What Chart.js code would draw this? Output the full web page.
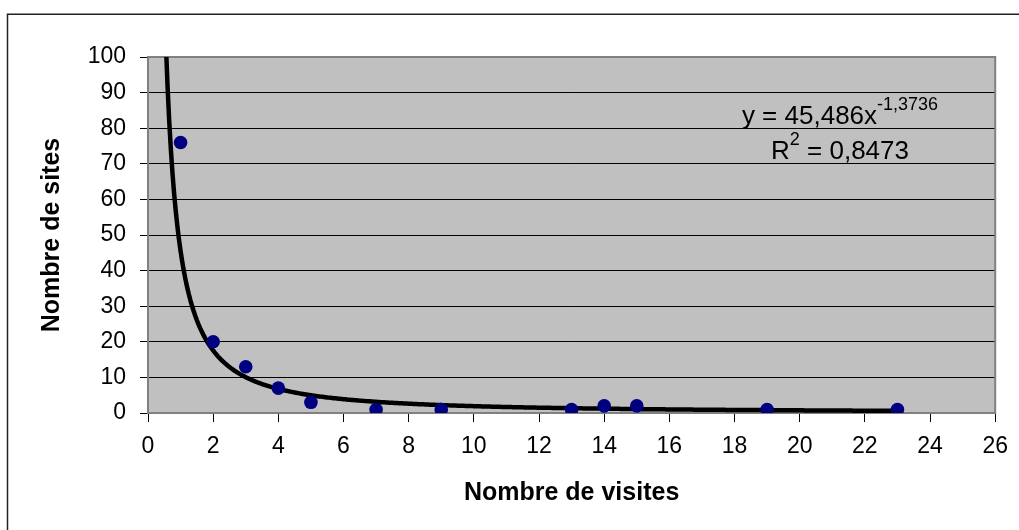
<!DOCTYPE html>
<html>
<head>
<meta charset="utf-8">
<script src="https://cdn.jsdelivr.net/npm/chart.js@4.4.1/dist/chart.umd.min.js"></script>
<style>
  html, body { margin: 0; padding: 0; background: #ffffff; }
  canvas { display: block; }
</style>
</head>
<body>
<canvas id="c" width="1019" height="530"></canvas>
<script>
// ---- Data ----
const visits = [1, 2, 3, 4, 5, 7, 9, 13, 14, 15, 19, 23];
const sites  = [76, 20, 13, 7, 3, 1, 1, 1, 2, 2, 1, 1];
const xTickValues = [0, 2, 4, 6, 8, 10, 12, 14, 16, 18, 20, 22, 24, 26];
const yTickValues = [0, 10, 20, 30, 40, 50, 60, 70, 80, 90, 100];
// Power trendline coefficients displayed on the chart
const trendCoefA = 45.486;
const trendCoefB = -1.3736;
const trendFrom = 0.5;
const trendTo = 23;
const equationText = ["y = 45,486x", "-1,3736"];
const r2Text = ["R", "2", " = 0,8473"];
const xTitle = "Nombre de visites";
const yTitle = "Nombre de sites";

const scatterPoints = visits.map((v, i) => ({ x: v, y: sites[i] }));
const trendPoints = [];
for (let i = 0; ; i++) {
  const x = trendFrom + i * 0.05;
  if (x > trendTo + 1e-9) break;
  trendPoints.push({ x: x, y: trendCoefA * Math.pow(x, trendCoefB) });
}

const FONT = "'Liberation Sans', Arial, sans-serif";

const plotDecor = {
  id: 'plotDecor',
  beforeDraw(chart) {
    const { ctx, chartArea: a } = chart;
    ctx.save();
    ctx.fillStyle = '#ffffff';
    ctx.fillRect(0, 0, chart.width, chart.height);
    ctx.strokeStyle = '#222222';
    ctx.lineWidth = 1.5;
    ctx.strokeRect(7.5, 14.25, 1040, 540);
    ctx.fillStyle = '#C0C0C0';
    ctx.fillRect(a.left, a.top, a.right - a.left, a.bottom - a.top);
    ctx.restore();
  },
  beforeDatasetsDraw(chart) {
    const { ctx, chartArea: a } = chart;
    ctx.save();
    ctx.strokeStyle = '#808080';
    ctx.lineWidth = 2;
    ctx.strokeRect(a.left, a.top, a.right - a.left, a.bottom - a.top);
    ctx.restore();
  },
  afterDraw(chart) {
    const { ctx } = chart;
    const cx = 840;
    ctx.save();
    ctx.fillStyle = '#000000';
    ctx.textBaseline = 'alphabetic';
    const big = "26px " + FONT, small = "18px " + FONT;
    ctx.font = big; const w1 = ctx.measureText(equationText[0]).width;
    ctx.font = small; const w2 = ctx.measureText(equationText[1]).width;
    let x = cx - (w1 + w2) / 2;
    ctx.font = big; ctx.fillText(equationText[0], x, 124);
    ctx.font = small; ctx.fillText(equationText[1], x + w1, 110);
    ctx.font = big; const r1 = ctx.measureText(r2Text[0]).width;
    ctx.font = small; const r2 = ctx.measureText(r2Text[1]).width;
    ctx.font = big; const r3 = ctx.measureText(r2Text[2]).width;
    x = cx - (r1 + r2 + r3) / 2;
    ctx.font = big; ctx.fillText(r2Text[0], x, 159);
    ctx.font = small; ctx.fillText(r2Text[1], x + r1, 145);
    ctx.font = big; ctx.fillText(r2Text[2], x + r1 + r2, 159);
    ctx.restore();
  }
};

new Chart(document.getElementById('c'), {
  type: 'scatter',
  data: {
    datasets: [
      {
        type: 'scatter',
        data: scatterPoints,
        backgroundColor: '#000080',
        borderColor: '#000080',
        borderWidth: 0,
        pointRadius: 6.8,
        pointHoverRadius: 6.8,
        order: 1
      },
      {
        type: 'line',
        data: trendPoints,
        borderColor: '#000000',
        borderWidth: 4.5,
        pointRadius: 0,
        fill: false,
        tension: 0,
        clip: 0,
        order: 2
      }
    ]
  },
  options: {
    responsive: false,
    animation: false,
    events: [],
    layout: { padding: { top: 57, right: 22, left: 0, bottom: 0 } },
    plugins: { legend: { display: false }, tooltip: { enabled: false } },
    scales: {
      x: {
        type: 'linear',
        min: 0, max: 26,
        afterFit(s) { s.height = 117; },
        afterBuildTicks(s) { s.ticks = xTickValues.map(v => ({ value: v })); },
        ticks: { color: '#000000', font: { family: FONT, size: 23 }, padding: 11, maxRotation: 0, autoSkip: false },
        grid: { drawOnChartArea: false, drawTicks: true, tickLength: 9, color: '#000000', tickWidth: 1 },
        border: { display: true, color: '#808080', width: 2 },
        title: { display: true, text: xTitle, color: '#000000', font: { family: FONT, size: 25, weight: 'bold' }, padding: { top: 0, bottom: 22 } }
      },
      y: {
        type: 'linear',
        min: 0, max: 100,
        afterFit(s) { s.width = 148; },
        afterBuildTicks(s) { s.ticks = yTickValues.map(v => ({ value: v })); },
        ticks: { color: '#000000', font: { family: FONT, size: 23 }, padding: 14, autoSkip: false },
        grid: { drawOnChartArea: true, drawTicks: true, tickLength: 8, color: '#000000', lineWidth: 1 },
        border: { display: true, color: '#808080', width: 2 },
        title: { display: true, text: yTitle, color: '#000000', font: { family: FONT, size: 25, weight: 'bold' }, padding: { top: 37, bottom: 0 } }
      }
    }
  },
  plugins: [plotDecor]
});
</script>
</body>
</html>
